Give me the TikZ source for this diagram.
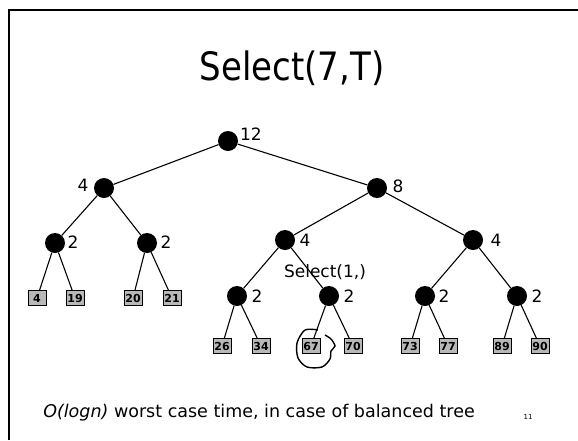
\documentclass[tikz,border=0pt]{standalone}
\usepackage{fontspec}
\setmainfont{DejaVu Sans}
\begin{document}
\begin{tikzpicture}[x=1pt,y=-1pt,
  inner/.style={circle,fill=black,inner sep=0pt,minimum size=20pt},
  leaf/.style={draw=black,line width=1pt,fill=black!28,inner sep=0pt,
    minimum width=18pt,minimum height=15pt,font=\fontsize{11}{11}\selectfont\bfseries},
  cnt/.style={font=\fontsize{17}{17}\selectfont,inner sep=0pt},
  edge/.style={line width=1.1pt}]
\useasboundingbox (0,0) rectangle (578,440);
\fill[white] (0,0) rectangle (578,440);
% slide frame
\draw[line width=2pt] (9,440) -- (9,10) -- (578,10);

% title
\node[inner sep=0pt,font=\fontsize{34}{34}\selectfont] (title) at (292,68)
  {\scalebox{1}[1.15]{Select(7,T)}};

% internal nodes
\node[inner] (r)   at (228,141) {};
\node[inner] (a)   at (104,188) {};
\node[inner] (b)   at (377,188) {};
\node[inner] (aa)  at (55,243) {};
\node[inner] (ab)  at (147,243) {};
\node[inner] (ba)  at (285,240) {};
\node[inner] (bb)  at (473,240) {};
\node[inner] (baa) at (237,296) {};
\node[inner] (bab) at (329,296) {};
\node[inner] (bba) at (425,296) {};
\node[inner] (bbb) at (517,296) {};

% subtree sizes
\node[cnt] (nr)   at (251,134) {12};
\node[cnt] (na)   at (83,185)  {4};
\node[cnt] (nb)   at (398,186) {8};
\node[cnt] (naa)  at (73,242)  {2};
\node[cnt] (nab)  at (166,242) {2};
\node[cnt] (nba)  at (305,240) {4};
\node[cnt] (nbb)  at (496,240) {4};
\node[cnt] (nbaa) at (257,296) {2};
\node[cnt] (nbab) at (349,296) {2};
\node[cnt] (nbba) at (444,296) {2};
\node[cnt] (nbbb) at (537,296) {2};

% leaves
\node[leaf] (l1)  at (37,298)  {4};
\node[leaf] (l2)  at (75,298)  {19};
\node[leaf] (l3)  at (133,298) {20};
\node[leaf] (l4)  at (172,298) {21};
\node[leaf] (l5)  at (222,346) {26};
\node[leaf] (l6)  at (261,346) {34};
\node[leaf] (l7)  at (311,346) {67};
\node[leaf] (l8)  at (353,346) {70};
\node[leaf] (l9)  at (410,346) {73};
\node[leaf] (l10) at (448,346) {77};
\node[leaf] (l11) at (502,346) {89};
\node[leaf] (l12) at (540,346) {90};

% tree edges
\draw[edge] (r) -- (a);
\draw[edge] (r) -- (b);
\draw[edge] (a) -- (aa);
\draw[edge] (a) -- (ab);
\draw[edge] (b) -- (ba);
\draw[edge] (b) -- (bb);
\draw[edge] (aa) -- (l1);
\draw[edge] (aa) -- (l2);
\draw[edge] (ab) -- (l3);
\draw[edge] (ab) -- (l4);
\draw[edge] (ba) -- (baa);
\draw[edge] (ba) -- (bab);
\draw[edge] (bb) -- (bba);
\draw[edge] (bb) -- (bbb);
\draw[edge] (baa) -- (l5);
\draw[edge] (baa) -- (l6);
\draw[edge] (bab) -- (l7);
\draw[edge] (bab) -- (l8);
\draw[edge] (bba) -- (l9);
\draw[edge] (bba) -- (l10);
\draw[edge] (bbb) -- (l11);
\draw[edge] (bbb) -- (l12);

% recursive call note
\node[inner sep=0pt,font=\fontsize{17}{17}\selectfont] (sel) at (325,272) {Select(1,)};

% hand-drawn loop around the answer
\draw[line width=1.4pt] plot[smooth] coordinates
  {(318,330) (305,330) (297,343) (298,358) (307,367) (322,367) (330,359) (331,351) (335,346) (331,339) (325,335)};

% footer
\node[inner sep=0pt,font=\fontsize{17.5}{17.5}\selectfont] (foot) at (259,413)
  {\textit{O(logn)} worst case time, in case of balanced tree};
\node[inner sep=0pt,font=\fontsize{7}{7}\selectfont] (page) at (528,417) {11};
\end{tikzpicture}
\end{document}
